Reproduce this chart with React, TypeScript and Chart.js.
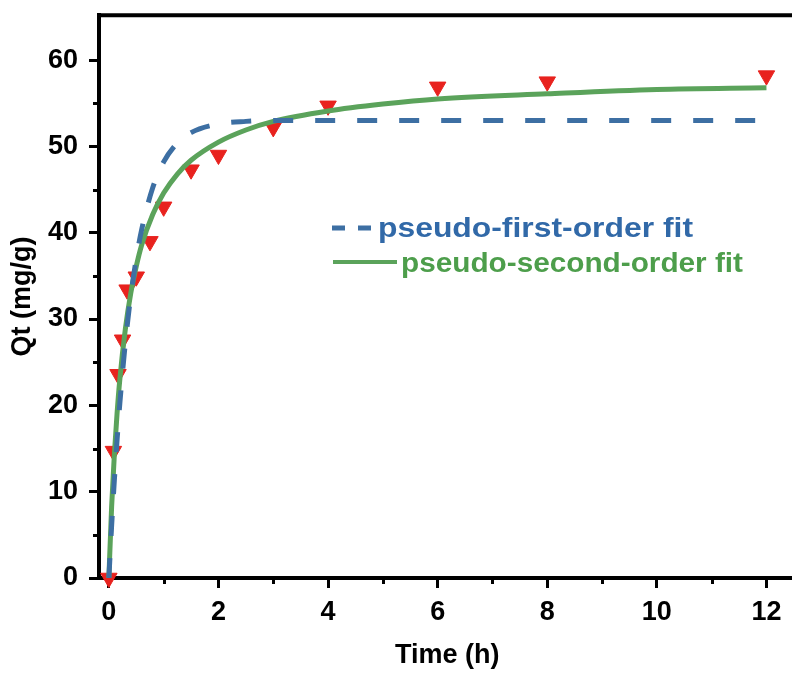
import React, { useEffect, useRef } from "react";
import { Chart, registerables } from "chart.js";

Chart.register(...registerables);

// Experimental data (time in h, Qt in mg/g)
const timeH = [0, 0.083, 0.167, 0.25, 0.333, 0.5, 0.75, 1, 1.5, 2, 3, 4, 6, 8, 12];
const qtExp = [0, 14.7, 23.6, 27.6, 33.4, 34.9, 39.0, 43.0, 47.3, 49.0, 52.2, 54.7, 56.9, 57.5, 58.2];

// Fit curves
const fitT = [0, 0.05, 0.1, 0.15, 0.2, 0.3, 0.4, 0.5, 0.6, 0.8, 1, 1.25, 1.5, 2, 2.5, 3, 4, 5, 6, 8, 10, 12];
const pfoQ = [0, 6.0, 11.3, 16.0, 20.2, 27.2, 32.7, 37.0, 40.4, 45.2, 48.2, 50.4, 51.6, 52.6, 52.9, 53.0, 53.0, 53.0, 53.0, 53.0, 53.0, 53.0];
const psoQ = [0, 8.2, 14.3, 19.1, 23.0, 28.8, 33.0, 36.1, 38.6, 42.1, 44.6, 46.8, 48.4, 50.5, 51.9, 52.9, 54.1, 54.9, 55.5, 56.1, 56.6, 56.8];

const xMinorTicks = [1, 3, 5, 7, 9, 11];
const yMinorTicks = [5, 15, 25, 35, 45, 55];

const legendLabels = ["pseudo-first-order fit", "pseudo-second-order fit"];

const BLUE = "#3d6fa3";
const BLUE_TEXT = "#3169a8";
const GREEN = "#5ba35b";
const GREEN_TEXT = "#4d9e4b";
const RED = "#e8221e";
const FONT = "'Liberation Sans', Arial, sans-serif";

const CANVAS_W = 806;
const CANVAS_H = 689;
const SHIFT_Y = 12;

export default function App() {
  const ref = useRef<HTMLCanvasElement>(null);

  useEffect(() => {
    const canvas = ref.current!;
    const framePlugin = {
      id: "frameAndLegend",
      afterDraw(chart: any) {
        const ctx = chart.ctx;
        const { left, right, top, bottom } = chart.chartArea;
        const xs = chart.scales.x;
        const ys = chart.scales.y;
        ctx.save();
        // top frame
        ctx.strokeStyle = "#000";
        ctx.lineWidth = 4;
        ctx.beginPath();
        ctx.moveTo(left - 2, top);
        ctx.lineTo(right + 4, top);
        ctx.stroke();
        // minor ticks
        ctx.lineWidth = 3;
        ctx.beginPath();
        xMinorTicks.forEach((v) => {
          const px = Math.round(xs.getPixelForValue(v)) + 0.5;
          ctx.moveTo(px, bottom);
          ctx.lineTo(px, bottom + 6);
        });
        yMinorTicks.forEach((v) => {
          const py = Math.round(ys.getPixelForValue(v)) + 0.5;
          ctx.moveTo(left, py);
          ctx.lineTo(left - 6, py);
        });
        ctx.stroke();
        // legend (screen coords -> canvas coords)
        const oy = SHIFT_Y;
        ctx.font = `bold 28px ${FONT}`;
        ctx.textBaseline = "middle";
        ctx.textAlign = "left";
        ctx.strokeStyle = BLUE;
        ctx.lineWidth = 5;
        ctx.setLineDash([13, 13]);
        ctx.beginPath();
        ctx.moveTo(332, 228 + oy);
        ctx.lineTo(372, 228 + oy);
        ctx.stroke();
        ctx.setLineDash([]);
        const drawFitted = (text: string, x: number, y: number, w: number, color: string) => {
          const m = ctx.measureText(text).width;
          ctx.save();
          ctx.translate(x, y);
          ctx.scale(w / m, 1);
          ctx.fillStyle = color;
          ctx.fillText(text, 0, 0);
          ctx.restore();
        };
        drawFitted(legendLabels[0], 378, 229 + oy, 315, BLUE_TEXT);
        ctx.strokeStyle = GREEN;
        ctx.lineWidth = 4;
        ctx.beginPath();
        ctx.moveTo(333, 262 + oy);
        ctx.lineTo(397, 262 + oy);
        ctx.stroke();
        drawFitted(legendLabels[1], 401, 264 + oy, 342, GREEN_TEXT);
        ctx.restore();
      },
    };

    const tickFont = { family: FONT, size: 27, weight: "bold" as const };

    const chart = new Chart(canvas, {
      type: "line",
      data: {
        datasets: [
          {
            label: legendLabels[0],
            data: fitT.map((t, i) => ({ x: t, y: pfoQ[i] })),
            borderColor: BLUE,
            borderWidth: 5,
            borderDash: [20, 22],
            pointRadius: 0,
            cubicInterpolationMode: "monotone",
            fill: false,
            order: 1,
          },
          {
            label: legendLabels[1],
            data: fitT.map((t, i) => ({ x: t, y: psoQ[i] })),
            borderColor: GREEN,
            borderWidth: 5,
            pointRadius: 0,
            cubicInterpolationMode: "monotone",
            fill: false,
            order: 2,
          },
          {
            label: "experimental",
            data: timeH.map((t, i) => ({ x: t, y: qtExp[i] })),
            showLine: false,
            pointStyle: "triangle",
            rotation: 180,
            pointRadius: 9.5,
            backgroundColor: RED,
            borderColor: RED,
            borderWidth: 1,
            clip: false as any,
            order: 3,
          },
        ],
      },
      options: {
        animation: false,
        responsive: false,
        devicePixelRatio: 1,
        layout: { padding: { left: 0, right: 3, top: 0, bottom: 0 } },
        plugins: {
          legend: { display: false },
          tooltip: { enabled: false },
        },
        scales: {
          x: {
            type: "linear",
            min: -0.18,
            max: 12.53,
            afterFit: (s: any) => {
              s.height = 99;
            },
            ticks: {
              stepSize: 2,
              includeBounds: false,
              color: "#000",
              font: tickFont,
              padding: 8,
              maxRotation: 0,
            },
            grid: {
              drawOnChartArea: false,
              drawTicks: true,
              tickLength: 10,
              tickWidth: 3,
              tickColor: "#000",
            },
            border: { display: true, color: "#000", width: 4 },
            title: {
              display: true,
              text: "Time (h)",
              color: "#000",
              font: tickFont,
              padding: { top: 0, bottom: 5 },
            },
          },
          y: {
            type: "linear",
            min: 0,
            max: 65.2,
            afterFit: (s: any) => {
              s.width = 99;
            },
            ticks: {
              stepSize: 10,
              includeBounds: false,
              color: "#000",
              font: tickFont,
              padding: 11,
            },
            grid: {
              drawOnChartArea: false,
              drawTicks: true,
              tickLength: 10,
              tickWidth: 3,
              tickColor: "#000",
            },
            border: { display: true, color: "#000", width: 4 },
            title: {
              display: true,
              text: "Qt (mg/g)",
              color: "#000",
              font: tickFont,
              padding: { top: 6, bottom: 0 },
            },
          },
        },
      },
      plugins: [framePlugin],
    } as any);

    return () => chart.destroy();
  }, []);

  return (
    <div
      style={{
        position: "fixed",
        left: 0,
        top: 0,
        width: 792,
        height: 677,
        overflow: "hidden",
        background: "#fff",
      }}
    >
      <canvas
        ref={ref}
        width={CANVAS_W}
        height={CANVAS_H}
        style={{ display: "block", position: "absolute", left: 0, top: -SHIFT_Y }}
      />
    </div>
  );
}
